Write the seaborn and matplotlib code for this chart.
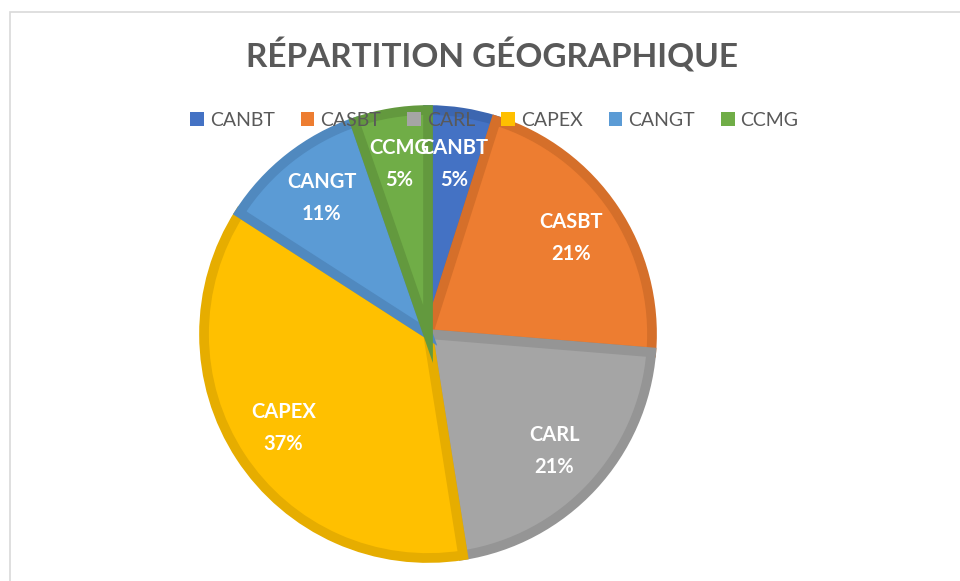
import matplotlib
matplotlib.use("Agg")
import matplotlib.pyplot as plt
import matplotlib.patches as mpatches
import seaborn as sns

# data
categories = ["CANBT", "CASBT", "CARL", "CAPEX", "CANGT", "CCMG"]
shares     = [4.9, 21.4, 21.2, 36.6, 10.6, 5.3]
fills      = ["#4472C4", "#ED7D31", "#A5A5A5", "#FFC000", "#5B9BD5", "#70AD47"]
edges      = ["#3C66B0", "#D56F2A", "#959595", "#E6AD00", "#5089BF", "#63993E"]

sns.set_theme(style="white")
plt.rcParams['font.family'] = ['Lato', 'DejaVu Sans']

fig = plt.figure(figsize=(9.6, 5.81), dpi=100)
fig.patch.set_facecolor("white")

# light chart-area border like the Excel frame
fig.add_artist(mpatches.Rectangle((10 / 960, -0.05), 1.0, 1 - 12 / 581 + 0.05,
                                  transform=fig.transFigure, fill=False,
                                  edgecolor="#D9D9D9", linewidth=1.2))

ax = fig.add_axes([0.1892, 0.001, 0.5133, 0.8482])


def fmt(pct, names=iter(categories)):
    return f"{next(names)}\n{pct:.0f}%"


wedges, texts, autotexts = ax.pie(
    shares, colors=fills, startangle=90, counterclock=False,
    autopct=fmt, pctdistance=0.77,
    wedgeprops=dict(linewidth=7, joinstyle="miter"),
    textprops=dict(color="white", fontsize=14.5, fontweight="bold", linespacing=1.75),
)
for w, ec in zip(wedges, edges):
    w.set_edgecolor(ec)
ax.set_xlim(-1.1, 1.1)
ax.set_ylim(-1.1, 1.1)
ax.set_aspect("equal")
ax.axis("off")

fig.text(0.512, 0.905, "RÉPARTITION GÉOGRAPHIQUE", ha="center", va="center",
         fontsize=24, fontweight="bold", color="#595959")

handles = [mpatches.Patch(facecolor=c, edgecolor="none") for c in fills]
leg = fig.legend(handles, categories, loc="center", bbox_to_anchor=(0.515, 0.793),
                 ncol=6, frameon=False, fontsize=14, handlelength=0.7,
                 handleheight=0.7, handletextpad=0.3, columnspacing=1.35,
                 labelcolor="#595959")
leg.set_zorder(10)

fig.savefig("out.png", dpi=100)
